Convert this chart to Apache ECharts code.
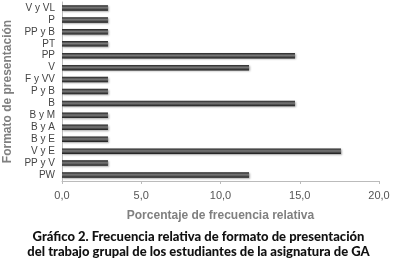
<!DOCTYPE html>
<html>
<head>
<meta charset="utf-8">
<script src="https://cdn.jsdelivr.net/npm/echarts@6/dist/echarts.min.js"></script>
<style>
html, body { margin: 0; padding: 0; background: #fff; }
#chart { width: 397px; height: 263px; }
</style>
</head>
<body>
<div id="chart"></div>
<script>
// categories bottom to top (as echarts draws a category y axis)
var categories = ['PW', 'PP y V', 'V y E', 'B y E', 'B y A', 'B y M', 'B', 'P y B',
    'F y VV', 'V', 'PP', 'PT', 'PP y B', 'P', 'V y VL'];
var values = [11.8, 2.9, 17.6, 2.9, 2.9, 2.9, 14.7, 2.9, 2.9, 11.8, 14.7, 2.9, 2.9, 2.9, 2.9];
var xTicks = [0, 5, 10, 15, 20];

var chart = echarts.init(document.getElementById('chart'));

var option = {
    animation: false,
    grid: {
        left: 62,
        right: 18,
        top: 2,
        bottom: 82,
        containLabel: false,
        outerBoundsMode: 'none'
    },
    xAxis: {
        type: 'value',
        min: xTicks[0],
        max: xTicks[xTicks.length - 1],
        interval: 5,
        name: 'Porcentaje de frecuencia relativa',
        nameLocation: 'middle',
        nameGap: 29,
        nameTextStyle: {
            fontFamily: 'Liberation Sans',
            fontWeight: 'bold',
            fontSize: 12,
            color: '#808080'
        },
        axisLine: { show: true, lineStyle: { color: '#bbb' } },
        axisTick: { show: true, length: 3, lineStyle: { color: '#bbb' } },
        splitLine: { show: false },
        axisLabel: {
            fontFamily: 'Liberation Sans',
            fontSize: 11,
            color: '#555',
            margin: 9,
            formatter: function (val) {
                return val.toFixed(1).replace('.', ',');
            }
        }
    },
    yAxis: {
        type: 'category',
        data: categories,
        name: 'Formato de presentación',
        nameLocation: 'middle',
        nameGap: 47,
        nameRotate: 90,
        nameTextStyle: {
            fontFamily: 'Liberation Sans',
            fontWeight: 'bold',
            fontSize: 12,
            color: '#808080'
        },
        axisLine: { show: true, lineStyle: { color: '#bbb' } },
        axisTick: { show: false },
        axisLabel: {
            fontFamily: 'Liberation Sans',
            fontSize: 10,
            color: '#444',
            margin: 7,
            interval: 0
        }
    },
    series: [{
        type: 'bar',
        data: values,
        barWidth: 5.5,
        itemStyle: {
            color: new echarts.graphic.LinearGradient(0, 0, 0, 1, [
                { offset: 0, color: '#222' },
                { offset: 0.45, color: '#7a7a7a' },
                { offset: 1, color: '#1a1a1a' }
            ]),
            shadowColor: 'rgba(0,0,0,0.35)',
            shadowBlur: 2,
            shadowOffsetX: 1,
            shadowOffsetY: 1
        }
    }],
    graphic: [{
        type: 'text',
        left: 'center',
        top: 229,
        style: {
            text: 'Gráfico 2. Frecuencia relativa de formato de presentación\ndel trabajo grupal de los estudiantes de la asignatura de GA',
            textAlign: 'center',
            fontFamily: 'Lato',
            fontWeight: 900,
            fontSize: 13,
            lineHeight: 15,
            fill: '#111'
        }
    }]
};
chart.setOption(option);
</script>
</body>
</html>
